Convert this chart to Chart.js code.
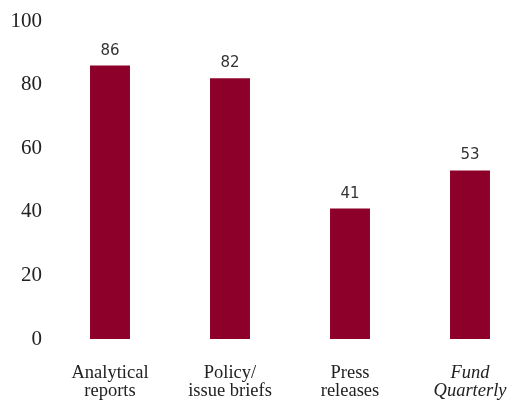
<!DOCTYPE html>
<html>
<head>
<meta charset="utf-8">
<script src="https://cdn.jsdelivr.net/npm/chart.js@4"></script>
<style>
  html, body { margin: 0; padding: 0; background: #fff; }
  #wrap { width: 511px; height: 402px; }
</style>
</head>
<body>
<div id="wrap"><canvas id="barChart"></canvas></div>
<script>
const categories = [["Analytical", "reports"], ["Policy/", "issue briefs"], ["Press", "releases"], ["Fund", "Quarterly"]];
const values = [86, 82, 41, 53];
const yTicks = [0, 20, 40, 60, 80, 100];

const barColor = "#8c0029";

// value labels above each bar
const valueLabels = {
  id: "value-labels",
  afterDatasetsDraw: (chart) => {
    const ctx = chart.ctx;
    const meta = chart.getDatasetMeta(0);
    ctx.save();
    ctx.font = "15px 'DejaVu Sans'";
    ctx.fillStyle = "#333";
    ctx.textAlign = "center";
    ctx.textBaseline = "alphabetic";
    meta.data.forEach((bar, i) => {
      ctx.fillText(values[i], bar.x, bar.y - 11);
    });
    ctx.restore();
  },
};

let barctx = document.getElementById("barChart").getContext("2d");
let barChart = new Chart(barctx, {
  type: "bar",
  data: {
    labels: categories,
    datasets: [
      {
        data: values,
        backgroundColor: barColor,
        borderWidth: 0,
        categoryPercentage: 1,
        barPercentage: 0.333,
        clip: false,
      },
    ],
  },
  options: {
    responsive: true,
    maintainAspectRatio: false,
    animation: false,
    layout: {
      padding: { top: 21, right: 41, bottom: 0, left: 0 },
    },
    scales: {
      x: {
        offset: false,
        grid: { display: false, drawTicks: false },
        border: { display: false },
        afterFit: (axis) => {
          axis.height = 63;
          axis.paddingLeft = 0;
          axis.paddingRight = 0;
        },
        ticks: {
          color: "#222",
          padding: 25,
          maxRotation: 0,
          autoSkip: false,
          font: (c) => ({
            family: "'Liberation Serif', serif",
            size: 18.5,
            lineHeight: "18px",
            style: c.index === 3 ? "italic" : "normal",
          }),
        },
      },
      y: {
        min: 0,
        max: 100,
        afterBuildTicks: (axis) => {
          axis.ticks = yTicks.map((v) => ({ value: v }));
        },
        afterFit: (axis) => {
          axis.width = 110;
          axis.paddingTop = 0;
          axis.paddingBottom = 0;
        },
        grid: { display: false, drawTicks: false },
        border: { display: false },
        ticks: {
          color: "#222",
          padding: 68,
          font: { family: "'Liberation Serif', serif", size: 21 },
        },
      },
    },
    plugins: {
      legend: { display: false },
      tooltip: { enabled: false },
    },
  },
  plugins: [valueLabels],
});
</script>
</body>
</html>
